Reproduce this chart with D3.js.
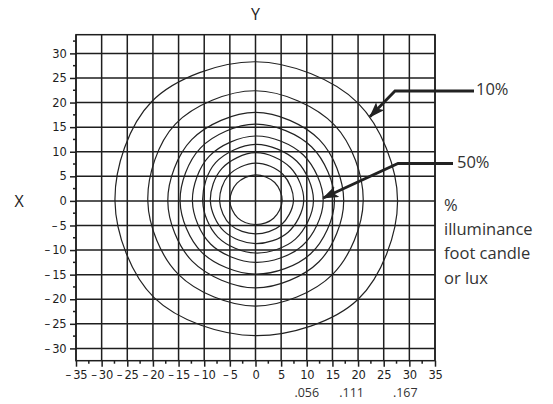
<!DOCTYPE html>
<html><head><meta charset="utf-8">
<script src="https://cdn.jsdelivr.net/npm/d3@7"></script>
<style>body{margin:0;background:#fff}</style>
</head><body>
<svg id="c" width="553" height="404"></svg>
<script>
// ---- data ----
const xTicks = [-35,-30,-25,-20,-15,-10,-5,0,5,10,15,20,25,30,35];
const yTicks = [-30,-25,-20,-15,-10,-5,0,5,10,15,20,25,30];
const ringAngles = [0,45,90,135,180,225,270,315];
// radius of each iso-illuminance contour at the angles above (axis units)
const ring1 = [5.2, 5.3, 5.3, 5.1, 5.0, 4.9, 4.8, 5.0];
const ring2 = [7.4, 7.6, 7.7, 7.4, 7.0, 6.9, 6.7, 7.0];
const ring3 = [9.4, 9.6, 9.8, 9.3, 8.8, 8.7, 8.7, 9.0];
const ring4 = [11.3, 11.4, 11.5, 11.0, 10.3, 10.4, 10.6, 11.0];
const ring5 = [13.2, 13.2, 13.2, 12.8, 12.3, 12.4, 12.5, 12.9];
const ring6 = [15.4, 15.5, 15.6, 15.2, 14.7, 14.8, 14.9, 15.2];
const ring7 = [17.2, 17.6, 18.0, 17.6, 17.1, 17.4, 17.7, 17.5];
const ring8 = [21.0, 21.8, 22.4, 22.1, 21.0, 21.2, 21.4, 21.2];
const ring9 = [27.7, 28.2, 28.3, 28.6, 27.4, 27.9, 27.4, 28.3];
const rings = [ring1, ring2, ring3, ring4, ring5, ring6, ring7, ring8, ring9];
const noteLabels = [".056", ".111", ".167"];
const noteAt = [10, 18.75, 29.2];
const legendLines = ["%", "illuminance", "foot candle", "or lux"];

// ---- chart ----
const svg = d3.select("#c");
const x = d3.scaleLinear().domain([-35, 35]).range([76, 435]);
const y = d3.scaleLinear().domain([-32.5, 33.8]).range([360.7, 34.7]);
const ink = "#1e1e1e";
const tickFont = "DejaVu Sans, sans-serif";
const annFont = "Open Sans, sans-serif";

const fmt = v => v < 0 ? "\u2013\u2009" + Math.abs(v) : String(v);

// grid
const g = svg.append("g");
g.selectAll("line.v").data(xTicks).join("line")
  .attr("x1", d => x(d)).attr("x2", d => x(d))
  .attr("y1", y(33.8)).attr("y2", y(-32.5))
  .attr("stroke", ink).attr("stroke-width", 1.5);
g.selectAll("line.h").data(yTicks).join("line")
  .attr("y1", d => y(d)).attr("y2", d => y(d))
  .attr("x1", x(-35)).attr("x2", x(35))
  .attr("stroke", ink).attr("stroke-width", 1.5);
g.append("rect").attr("x", x(-35)).attr("y", y(33.8))
  .attr("width", x(35) - x(-35)).attr("height", y(-32.5) - y(33.8))
  .attr("fill", "none").attr("stroke", ink).attr("stroke-width", 1.5);

// contours
const line = d3.line().curve(d3.curveCatmullRomClosed.alpha(0.5));
svg.append("g").selectAll("path").data(rings).join("path")
  .attr("d", r => line(r.map((rad, i) => {
    const a = ringAngles[i] * Math.PI / 180;
    return [x(rad * Math.cos(a)), y(rad * Math.sin(a))];
  })))
  .attr("fill", "none").attr("stroke", "#222").attr("stroke-width", 1.2);

// axes
const xAxis = d3.axisBottom(x).tickValues(xTicks).tickSize(6).tickFormat(fmt);
const xa = svg.append("g").attr("transform", `translate(0,${y(-32.5)})`).call(xAxis);
const yAxis = d3.axisLeft(y).tickValues(yTicks).tickSize(6).tickFormat(fmt);
const ya = svg.append("g").attr("transform", `translate(${x(-35)},0)`).call(yAxis);
[xa, ya].forEach(a => {
  a.select(".domain").remove();
  a.selectAll("line").attr("stroke", ink).attr("stroke-width", 1.5);
  a.selectAll("text").attr("fill", ink).attr("font-family", tickFont)
    .attr("font-size", 11.5).attr("letter-spacing", -0.2);
});
xa.selectAll("text").attr("dy", "0.85em");
ya.selectAll("text").attr("x", -9.5);
// minor ticks
const xMinor = d3.range(-32.5, 35, 5);
svg.append("g").selectAll("line").data(xMinor).join("line")
  .attr("x1", d => x(d)).attr("x2", d => x(d))
  .attr("y1", y(-32.5)).attr("y2", y(-32.5) + 3)
  .attr("stroke", ink).attr("stroke-width", 1.5);
const yMinor = d3.range(-27.5, 34, 5);
svg.append("g").selectAll("line").data(yMinor).join("line")
  .attr("y1", d => y(d)).attr("y2", d => y(d))
  .attr("x1", x(-35) - 3).attr("x2", x(-35))
  .attr("stroke", ink).attr("stroke-width", 1.5);

// axis titles
svg.append("text").attr("x", x(0)).attr("y", 20).attr("text-anchor", "middle")
  .attr("font-family", annFont).attr("font-size", 16).attr("fill", "#222").text("Y");
svg.append("text").attr("x", 19).attr("y", 207).attr("text-anchor", "middle")
  .attr("font-family", annFont).attr("font-size", 16).attr("fill", "#222").text("X");

// bottom notes
svg.append("g").selectAll("text").data(noteLabels).join("text")
  .attr("x", (d, i) => x(noteAt[i])).attr("y", 397).attr("text-anchor", "middle")
  .attr("font-family", annFont).attr("font-size", 12.5).attr("fill", "#333").text(d => d);

// legend text
svg.append("g").selectAll("text").data(legendLines).join("text")
  .attr("x", 444).attr("y", (d, i) => 211 + i * 24.2)
  .attr("font-family", annFont).attr("font-size", 16.5).attr("fill", "#333").text(d => d);

// arrows
svg.append("defs").append("marker").attr("id", "ah")
  .attr("viewBox", "0 0 14 10").attr("refX", 13).attr("refY", 5)
  .attr("markerWidth", 16).attr("markerHeight", 12).attr("markerUnits", "userSpaceOnUse")
  .attr("orient", "auto")
  .append("path").attr("d", "M0,0 L14,5 L0,10 L3,5 Z").attr("fill", "#222");

const annos = [
  {label: "10%", tx: 476, ty: 95, elbow: [395, 91], end: [474, 91], tip: [22.3, 17.1]},
  {label: "50%", tx: 457, ty: 168, elbow: [398, 163.5], end: [453, 163.5], tip: [13.2, 0.6]}
];
annos.forEach(a => {
  svg.append("path")
    .attr("d", `M${a.end[0]},${a.end[1]} L${a.elbow[0]},${a.elbow[1]} L${x(a.tip[0])},${y(a.tip[1])}`)
    .attr("fill", "none").attr("stroke", "#222").attr("stroke-width", 2.8)
    .attr("marker-end", "url(#ah)");
  svg.append("text").attr("x", a.tx).attr("y", a.ty)
    .attr("font-family", annFont).attr("font-size", 16.5).attr("fill", "#333").text(a.label);
});
</script>
</body></html>
